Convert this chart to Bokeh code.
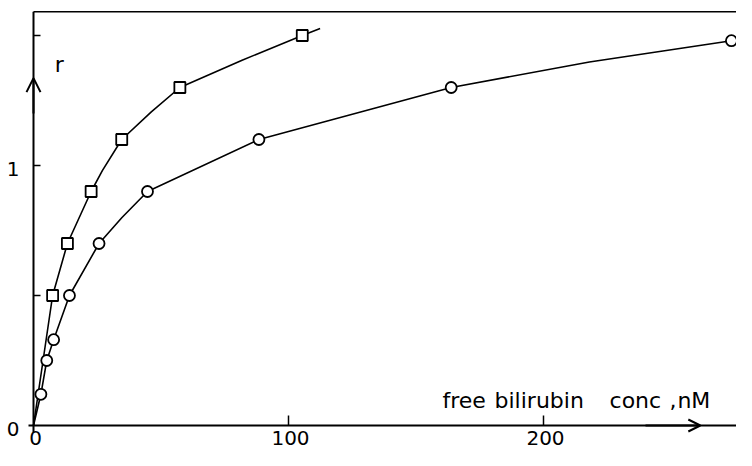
from bokeh.plotting import figure
from bokeh.models import Range1d, Arrow, OpenHead
from bokeh.core.properties import value
from bokeh.embed import file_html
from bokeh.resources import INLINE

# ---- data ----
sq_conc = [7.5, 13.3, 22.6, 34.6, 57.4, 105.4]
sq_r = [0.50, 0.70, 0.90, 1.10, 1.30, 1.50]
circ_conc = [2.9, 5.2, 7.9, 14.1, 25.7, 44.7, 88.4, 163.8, 273.7]
circ_r = [0.12, 0.25, 0.33, 0.50, 0.70, 0.90, 1.10, 1.30, 1.48]
# drawn curves (start at origin; square curve runs past its last point)
sq_curve_conc = [0, 7.5, 13.3, 22.6, 27.0, 34.6, 46.2, 57.4, 81.8, 105.4, 112.4]
sq_curve_r = [0, 0.50, 0.70, 0.90, 0.98, 1.10, 1.206, 1.30, 1.405, 1.50, 1.527]
circ_curve_conc = [0, 2.9, 5.2, 7.9, 14.1, 25.7, 34.7, 44.7, 88.4, 163.8, 218.0, 273.7]
circ_curve_r = [0, 0.12, 0.25, 0.33, 0.50, 0.70, 0.80, 0.90, 1.10, 1.30, 1.398, 1.48]

x_ticks = [100, 200]
x_tick_label_pos = [0, 100, 200]
x_tick_labels = ["0", "100", "200"]
y_ticks = [0.5, 1.0, 1.5]
y_tick_label_pos = [0, 1]
y_tick_labels = ["0", "1"]
x_title_words = ["free", "bilirubin", "conc", ",", "nM"]
x_title_pos = [160.4, 180.8, 225.9, 249.4, 252.5]
y_title = "r"

# ---- layout (screen mapping) ----
W, H = 736, 450
X0_PX, X_SCALE = 33.0, 2.55      # px of x=0, px per nM
Y0_PX, Y_SCALE = 425.0, 260.0    # px of r=0, px per unit r
x_start, x_end = -X0_PX / X_SCALE, (W - X0_PX) / X_SCALE
y_end, y_start = Y0_PX / Y_SCALE, -(H - Y0_PX) / Y_SCALE
Y_TOP = 1.5916                   # top frame line
FONT = "DejaVu Sans"

p = figure(width=W, height=H, x_range=Range1d(x_start, x_end), y_range=Range1d(y_start, y_end),
           x_axis_type=None, y_axis_type=None, output_backend="svg", toolbar_location=None,
           min_border=0, min_border_left=0, min_border_right=0, min_border_top=0,
           min_border_bottom=0)
p.grid.visible = False
p.outline_line_color = None
p.background_fill_color = "white"
p.border_fill_color = "white"

K = "black"
# axis lines and top line
p.segment(x0=[0], y0=[-7 / Y_SCALE], x1=[0], y1=[Y_TOP], line_color=K, line_width=2)
p.segment(x0=[-5 / X_SCALE], y0=[0], x1=[x_end], y1=[0], line_color=K, line_width=2)
p.segment(x0=[0], y0=[Y_TOP], x1=[x_end], y1=[Y_TOP], line_color=K, line_width=1.5)

# ticks (inward)
p.segment(x0=[0] * len(y_ticks), y0=y_ticks, x1=[7 / X_SCALE] * len(y_ticks), y1=y_ticks,
          line_color=K, line_width=1.5)
p.segment(x0=x_ticks, y0=[0] * len(x_ticks), x1=x_ticks, y1=[10 / Y_SCALE] * len(x_ticks),
          line_color=K, line_width=1.5)

# tick labels
p.text(x=x_tick_label_pos, y=[0] * len(x_tick_label_pos), text=x_tick_labels,
       text_align="center", text_baseline="alphabetic", y_offset=12, x_offset=2,
       text_font=value(FONT), text_font_size=value("20px"), text_color=K)
p.text(x=[0] * len(y_tick_label_pos), y=y_tick_label_pos, text=y_tick_labels,
       text_align="right", text_baseline="middle", x_offset=-14, y_offset=3,
       text_font=value(FONT), text_font_size=value("20px"), text_color=K)

# axis arrows
p.add_layout(Arrow(end=OpenHead(size=14, line_width=2, line_color=K),
                   x_start=0, y_start=1.2, x_end=0, y_end=1.336,
                   line_width=2, line_color=K))
p.add_layout(Arrow(end=OpenHead(size=12, line_width=2, line_color=K),
                   x_start=240, y_start=0, x_end=261.5, y_end=0,
                   line_width=2, line_color=K))

# curves
p.line(sq_curve_conc, sq_curve_r, line_color=K, line_width=1.6)
p.line(circ_curve_conc, circ_curve_r, line_color=K, line_width=1.6)

p.scatter(sq_conc, sq_r, marker="square", size=11, fill_color="white",
          line_color=K, line_width=1.8)
p.scatter(circ_conc, circ_r, marker="circle", size=11, fill_color="white",
          line_color=K, line_width=1.8)

# titles
p.text(x=x_title_pos, y=[0.098] * len(x_title_pos), text=x_title_words,
       text_align="left", text_baseline="alphabetic",
       text_font=value(FONT), text_font_size=value("22px"), text_color=K)
p.text(x=[8.3], y=[1.388], text=[y_title], text_align="left", text_baseline="alphabetic",
       text_font=value(FONT), text_font_size=value("22px"), text_color=K)

open("out.html", "w").write(file_html(p, INLINE))
